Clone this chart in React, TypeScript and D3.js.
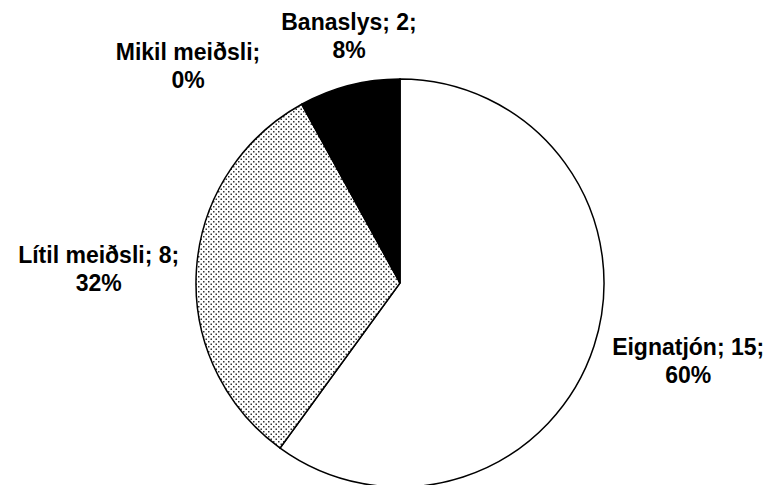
import React from "react";
import * as d3 from "d3";

const categories = ["Eignatjón", "Lítil meiðsli", "Mikil meiðsli", "Banaslys"];
const counts = [15, 8, 0, 2];
const showCount = [true, true, false, true];

const WIDTH = 769;
const HEIGHT = 485;
const CX = 400;
const CY = 283;
const R = 204;

// label placement: first baseline, polar from centre (degrees clockwise from 12 o'clock)
const LABEL_POS = [
  { r: 297, a: 104 },
  { r: 302, a: 273.8 },
  { r: 308, a: 316.5 },
  { r: 258, a: 348.6 },
];
const LINE_GAP = 28;

const FILLS = ["#ffffff", "url(#dots)", "#ffffff", "#000000"];

export default function App() {
  const total = d3.sum(counts);
  const pie = d3.pie<number>().sort(null).value((d) => d);
  const arcs = pie(counts);
  const arc = d3.arc<d3.PieArcDatum<number>>().innerRadius(0).outerRadius(R);

  return (
    <svg
      width={WIDTH}
      height={HEIGHT}
      style={{ position: "absolute", left: 0, top: 0, background: "#fff" }}
      fontFamily="Liberation Sans, Arial, sans-serif"
    >
      <defs>
        <pattern id="dots" width={5} height={5} patternUnits="userSpaceOnUse">
          <rect width={5} height={5} fill="#fff" />
          <rect x={0.5} y={0.5} width={1.5} height={1.5} fill="#333" />
          <rect x={3} y={3} width={1.5} height={1.5} fill="#333" />
        </pattern>
      </defs>
      <g transform={`translate(${CX},${CY})`}>
        {arcs.map((a, i) =>
          a.endAngle - a.startAngle > 0 ? (
            <path key={categories[i]} d={arc(a) || ""} fill={FILLS[i]} stroke="#000" strokeWidth={1.5} />
          ) : null
        )}
        {arcs.map((a, i) => {
          const pos = LABEL_POS[i];
          const [x, y] = d3.pointRadial((pos.a * Math.PI) / 180, pos.r);
          const pct = Math.round((counts[i] / total) * 100) + "%";
          const line1 = showCount[i] ? `${categories[i]}; ${counts[i]};` : `${categories[i]};`;
          return (
            <text key={"l" + i} x={x} y={y} textAnchor="middle" fontSize={23} fontWeight="bold" fill="#000">
              <tspan x={x} y={y}>{line1}</tspan>
              <tspan x={x} y={y + LINE_GAP}>{pct}</tspan>
            </text>
          );
        })}
      </g>
    </svg>
  );
}
